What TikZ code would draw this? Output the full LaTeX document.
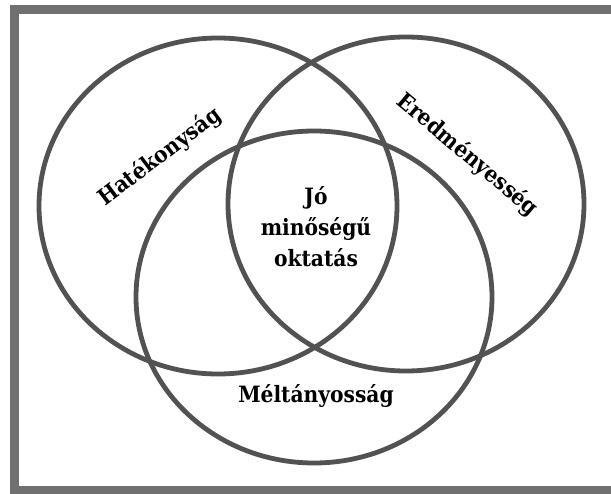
\documentclass[tikz,border=0pt]{standalone}
\usepackage{fontspec}
\setmainfont{DejaVu Serif Condensed}
\definecolor{ringgray}{rgb}{0.32,0.32,0.32}
\definecolor{framegray}{rgb}{0.44,0.44,0.44}
\begin{document}
\begin{tikzpicture}[x=1pt,y=-1pt,
  ring/.style={draw=ringgray, line width=4.8pt},
  lbl/.style={font=\bfseries\fontsize{22.5}{31}\selectfont, text=black,
              inner sep=0pt, align=center}]
\useasboundingbox (0,0) rectangle (611,494);
% outer frame, its right side runs off the page
\begin{scope}
  \clip (0,0) rectangle (611,494);
  \draw[draw=framegray, line width=9.5pt] (14.5,9.5) rectangle (640,490.5);
\end{scope}
% the three sets
\draw[ring] (218,206) ellipse [x radius=179pt, y radius=168pt];
\draw[ring] (406,204) ellipse [x radius=178pt, y radius=167pt];
\draw[ring] (314,297) ellipse [x radius=178pt, y radius=166pt];
% labels
\node[lbl, rotate=37]  (hat) at (160,157) {Hatékonyság};
\node[lbl, rotate=-40] (ere) at (467,155) {Eredményesség};
\node[lbl]             (jo)  at (316,227) {Jó\\minőségű\\oktatás};
\node[lbl]             (mel) at (316,396) {Méltányosság};
\end{tikzpicture}
\end{document}
